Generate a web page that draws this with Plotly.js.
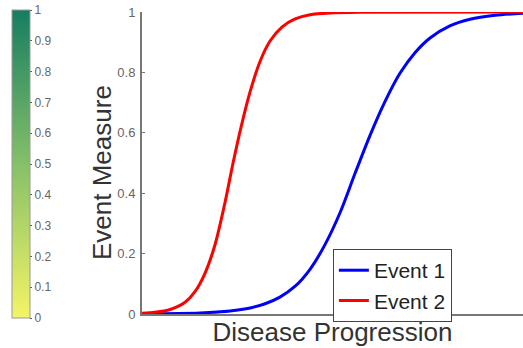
<!DOCTYPE html>
<html>
<head>
<meta charset="utf-8">
<script src="https://cdn.plot.ly/plotly-3.0.1.min.js"></script>
<style>html,body{margin:0;padding:0;background:#fff;}#chart{width:523px;height:348px;}</style>
</head>
<body>
<div id="chart"></div>
<script>
// Disease progression (0-100) and event measure values
const event1X = [0, 15.2, 23.1, 28.4, 32.3, 36.2, 40.2, 44.1, 48.0, 52.0, 55.9, 59.8, 63.8, 67.7, 71.7, 75.6, 80.8, 86.1, 92.7, 100];
const event1Y = [0.0005, 0.0035, 0.010, 0.020, 0.034, 0.056, 0.092, 0.148, 0.229, 0.336, 0.465, 0.59, 0.704, 0.797, 0.866, 0.914, 0.954, 0.976, 0.989, 0.996];
const event2X = [0, 3.4, 7.4, 11.3, 13.9, 16.5, 19.2, 21.8, 23.9, 26.0, 28.4, 31.0, 33.6, 36.8, 40.2, 44.1, 49.3, 57.2, 100];
const event2Y = [0.0023, 0.0055, 0.015, 0.039, 0.074, 0.134, 0.231, 0.37, 0.50, 0.619, 0.737, 0.837, 0.904, 0.951, 0.977, 0.991, 0.997, 0.9995, 1.0];
const seriesNames = ["Event 1", "Event 2"];
const yTicks = [0, 0.2, 0.4, 0.6, 0.8, 1];
const colorbarRange = [0, 1];
const xTitle = "Disease Progression";
const yTitle = "Event Measure";

const font = "Liberation Sans, Arial, Helvetica, sans-serif";

const traces = [
  {x: event1X, y: event1Y, name: seriesNames[0], mode: "lines",
   line: {color: "#0000ff", width: 3, shape: "spline", smoothing: 0.8}},
  {x: event2X, y: event2Y, name: seriesNames[1], mode: "lines",
   line: {color: "#ff0000", width: 3, shape: "spline", smoothing: 0.8}},
  {x: [null], y: [null], mode: "markers", showlegend: false, hoverinfo: "skip",
   marker: {color: colorbarRange, cmin: colorbarRange[0], cmax: colorbarRange[1],
     colorscale: [[0, "#f4f466"], [0.5, "#86c068"], [1, "#167d62"]],
     showscale: true,
     colorbar: {x: (12-142)/381, xanchor: "left",
       y: (314-164)/302, yanchor: "middle", len: 308, lenmode: "pixels",
       thickness: 18, thicknessmode: "pixels", xpad: 0, ypad: 0,
       outlinewidth: 1, outlinecolor: "#999",
       ticks: "outside", ticklen: 2, tickcolor: "#555", dtick: 0.1, tick0: 0,
       tickfont: {family: font, size: 12, color: "#666"}}}}
];

const layout = {
  width: 523, height: 348,
  margin: {l: 142, r: 0, t: 12, b: 34, pad: 0},
  paper_bgcolor: "#fff", plot_bgcolor: "#fff",
  font: {family: font},
  xaxis: {range: [0, 100], showgrid: false, zeroline: false, showticklabels: false,
    ticks: "", showline: true, linecolor: "#777", linewidth: 2,
    title: {text: xTitle, font: {family: font, size: 26, color: "#333"}, standoff: 8}},
  yaxis: {range: [0, 1], showgrid: false, zeroline: false, tickvals: yTicks,
    ticks: "inside", ticklen: 3, tickcolor: "#777", showline: true, linecolor: "#777", linewidth: 2,
    ticklabelstandoff: 2,
    tickfont: {family: font, size: 13, color: "#666"}},
  annotations: [{text: yTitle, textangle: -90, showarrow: false,
    xref: "paper", yref: "paper", x: (102-142)/381, y: (314-173)/302,
    xanchor: "center", yanchor: "middle",
    font: {family: font, size: 26, color: "#333"}}],
  legend: {x: 0.501, y: 0.215, xanchor: "left", yanchor: "top",
    bordercolor: "#444", borderwidth: 1, bgcolor: "#fff",
    font: {family: font, size: 21, color: "#222"}, tracegroupgap: 0, itemwidth: 30},
  showlegend: true
};

Plotly.newPlot("chart", traces, layout, {displayModeBar: false, staticPlot: true});
</script>
</body>
</html>
